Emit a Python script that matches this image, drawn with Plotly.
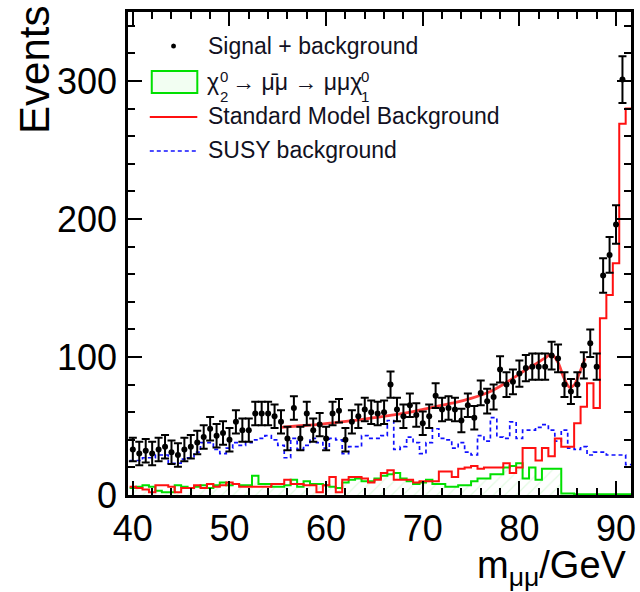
import plotly.graph_objects as go

# ---------------- data ----------------
BIN_WIDTH = 2.0 / 3.0
FIRST_CENTER = 40.0

data_events = [33, 30, 32, 30, 33, 35, 31, 29, 33, 35, 38, 42, 48, 43, 45, 40,
               53, 47, 47, 59, 59, 59, 57, 53, 41, 63, 41, 59, 47, 51, 41, 59, 61,
               40, 53, 57, 62, 60, 59, 60, 80, 62, 57, 65, 58, 52, 57, 72, 62,
               63, 62, 54, 65, 56, 74, 68, 71, 91, 80, 82, 88, 92, 93, 93, 93,
               101, 99, 80, 75, 80, 94, 110, 93, 159, 174, 196, 301]
data_errors = [8.5, 8.5, 8.5, 8.5, 8.5, 8.5, 8.5, 8.5, 8.5, 8.5, 8.5, 8.5, 8.5, 8.5, 8.5, 8.5,
               8.5, 8.5, 8.5, 8.5, 8.5, 8.5, 8.5, 8.5, 8.5, 8.5, 8.5, 8.5, 8.5, 8.5, 8.5, 8.5, 8.5,
               8.5, 8.5, 8.5, 8.5, 8.5, 8.5, 8.5, 9.5, 8.5, 8.5, 8.5, 8.5, 8.5, 8.5, 9.0, 8.5,
               8.5, 8.5, 8.5, 8.5, 8.5, 9.0, 9.0, 9.0, 9.5, 9.0, 9.0, 9.5, 9.5, 9.5, 9.5, 9.5,
               10.0, 10.0, 9.0, 9.0, 9.0, 9.5, 10.0, 9.5, 12.5, 13.0, 14.0, 17.0]

sm_background = [6, 5, 4, 2, 7, 7, 6, 2, 5, 5, 7, 5, 8, 6, 7, 9,
                 8, 6, 6, 6, 6, 6, 8, 8, 11, 8, 8, 7, 7, 2, 7, 13, 2, 11, 13, 13,
                 12, 9, 11, 16, 18, 11, 11, 11, 9, 10, 10, 10, 17, 17, 13, 19, 20, 21, 19, 20,
                 20, 20, 23, 16, 20,
                 34, 34, 25, 34, 28, 41, 35, 35, 52, 64, 81, 63, 128, 145, 168, 269, 280]
susy_background = [25, 25, 27, 27, 29, 29, 23, 23, 26, 27, 31, 38, 38, 33, 30, 34,
                   38, 36, 38, 40, 41, 43, 40, 36, 27, 41, 33, 36, 41, 38, 34, 41,
                   40, 30, 35, 35, 43, 41, 41, 43, 54, 33, 35, 42, 38, 30, 38, 48,
                   41, 40, 34, 38, 31, 29, 43, 39, 56, 42, 41, 53, 41, 47, 47,
                   49, 51, 47, 39, 47, 34, 33, 35, 29, 31, 31, 29, 29, 29, 22]
signal = [5, 6, 7, 6, 3, 2, 2, 7, 6, 5, 6, 7, 5, 7, 9, 7,
          8, 7, 7, 14, 8, 8, 6, 6, 7, 11, 6, 10, 8, 8, 7, 6, 5, 9, 11, 12,
          10, 10, 12, 14, 15, 16, 12, 10, 8, 9, 11, 8, 8,
          6, 6, 7, 7, 10, 12, 12, 15, 15, 20, 21, 23, 12, 20, 11, 19, 19, 19,
          1, 1, 0.5, 0.5, 0.5, 0.5, 0.5, 0.5, 0.5, 0.5, 0.5]

fit_mass = [55.3, 57, 59, 61, 63, 65, 67, 69, 71, 73, 75, 77, 79, 80.5, 81.7,
            82.6, 83.3, 84.0, 84.6, 85.2, 85.7, 86.2, 86.8]
fit_events = [49, 50, 51, 52.5, 54, 56, 58, 60.5, 63.5, 66.5, 70, 75, 83, 90, 95,
              99, 102, 96, 85, 78, 80, 88, 99]

x_ticks = [40, 50, 60, 70, 80, 90]
y_ticks = [0, 100, 200, 300]

legend_labels = ["Signal + background", "Standard Model Background", "SUSY background"]

# ---------------- derived binning ----------------
n_bins = len(sm_background)
centers = [FIRST_CENTER + i * BIN_WIDTH for i in range(n_bins)]
edges = [c - BIN_WIDTH / 2 for c in centers] + [centers[-1] + BIN_WIDTH / 2]


def step(vals):
    return list(vals) + [vals[-1]]


FONT = "Liberation Sans, Arial, sans-serif"
W, H = 640, 592
L, R, T, B = 128, 4, 12, 97
PW, PH = W - L - R, H - T - B


def px(x):
    return (x - L) / PW


def py(y):
    return (H - B - y) / PH


fig = go.Figure()

fig.add_trace(go.Scatter(
    x=edges, y=step(signal), mode="lines", line=dict(color="#00e000", width=2, shape="hv"),
    fill="tozeroy", fillcolor="rgba(0,0,0,0)",
    fillpattern=dict(shape="/", fgcolor="rgba(0,210,0,0.22)", bgcolor="rgba(0,0,0,0)", size=8, solidity=0.15),
    showlegend=False, hoverinfo="skip"))
fig.add_trace(go.Scatter(
    x=edges, y=step(susy_background), mode="lines",
    line=dict(color="#1010ff", width=1.7, shape="hv", dash="4px,3px"),
    showlegend=False, hoverinfo="skip"))
fig.add_trace(go.Scatter(
    x=edges, y=step(sm_background), mode="lines",
    line=dict(color="#ff1010", width=2, shape="hv"),
    showlegend=False, hoverinfo="skip"))
fig.add_trace(go.Scatter(
    x=fit_mass, y=fit_events, mode="lines",
    line=dict(color="rgba(255,40,40,0.9)", width=2.8, shape="spline", smoothing=0.8),
    showlegend=False, hoverinfo="skip"))
fig.add_trace(go.Scatter(
    x=centers[:len(data_events)], y=data_events, mode="markers",
    marker=dict(color="black", size=6),
    error_y=dict(type="data", array=data_errors, color="black", thickness=2, width=4),
    showlegend=False))

axis_common = dict(
    showline=True, linecolor="black", linewidth=2.5, mirror="ticks",
    ticks="inside", ticklen=14, tickwidth=2, tickcolor="black",
    showgrid=False, zeroline=False, ticklabeloverflow="allow",
    tickfont=dict(family=FONT, size=36, color="black"),
)

fig.update_layout(
    width=W, height=H,
    margin=dict(l=L, r=R, t=T, b=B),
    paper_bgcolor="white", plot_bgcolor="white",
    xaxis=dict(range=[39.5, 91.55], tickvals=x_ticks, ticktext=[str(v) for v in x_ticks],
               minor=dict(dtick=2, tick0=40, ticks="inside", ticklen=7, tickwidth=2, tickcolor="black"),
               **axis_common),
    yaxis=dict(range=[0, 350], tickvals=y_ticks, ticktext=[str(v) for v in y_ticks],
               minor=dict(dtick=20, tick0=0, ticks="inside", ticklen=7, tickwidth=2, tickcolor="black"),
               ticklabelstandoff=1,
               **axis_common),
)

ann = []
ann.append(dict(text="Events", x=px(33), y=py(70), xref="paper", yref="paper", textangle=-90,
                showarrow=False, xanchor="center", yanchor="middle",
                font=dict(family=FONT, size=42, color="black")))
ann.append(dict(text="m<sub>μμ</sub>/GeV", x=px(634), y=py(567.5), xref="paper", yref="paper",
                showarrow=False, xanchor="right", yanchor="middle",
                font=dict(family=FONT, size=38, color="black")))

LF = dict(family=FONT, size=23, color="#111122")
SF = dict(family=FONT, size=15, color="#111122")
ann.append(dict(text=legend_labels[0], x=px(207), y=py(46), xref="paper", yref="paper",
                showarrow=False, xanchor="left", yanchor="middle", font=LF))
ann.append(dict(text="χ", x=px(206), y=py(82), xref="paper", yref="paper",
                showarrow=False, xanchor="left", yanchor="middle", font=LF))
ann.append(dict(text="0<br>2", x=px(219), y=py(86), xref="paper", yref="paper",
                showarrow=False, xanchor="left", yanchor="middle", align="left", font=SF))
ann.append(dict(text="→ μ\u0304μ → μμχ", x=px(231), y=py(82), xref="paper", yref="paper",
                showarrow=False, xanchor="left", yanchor="middle", font=LF))
ann.append(dict(text="0<br>1", x=px(361), y=py(86), xref="paper", yref="paper",
                showarrow=False, xanchor="left", yanchor="middle", align="left", font=SF))
ann.append(dict(text=legend_labels[1], x=px(207), y=py(116), xref="paper", yref="paper",
                showarrow=False, xanchor="left", yanchor="middle", font=LF))
ann.append(dict(text=legend_labels[2], x=px(207), y=py(150), xref="paper", yref="paper",
                showarrow=False, xanchor="left", yanchor="middle", font=LF))

shapes = [
    dict(type="circle", xref="paper", yref="paper", x0=px(171.5), x1=px(176.5), y0=py(48.5), y1=py(43.5),
         fillcolor="black", line=dict(width=0)),
    dict(type="rect", xref="paper", yref="paper", x0=px(152), x1=px(198), y0=py(93), y1=py(71),
         fillcolor="rgba(0,230,0,0.05)", line=dict(color="#00e000", width=2)),
    dict(type="line", xref="paper", yref="paper", x0=px(150), x1=px(198), y0=py(117), y1=py(117),
         line=dict(color="#ff1010", width=2)),
    dict(type="line", xref="paper", yref="paper", x0=px(150), x1=px(198), y0=py(151), y1=py(151),
         line=dict(color="#1010ff", width=1.7, dash="4px,3px")),
]

fig.update_layout(annotations=ann, shapes=shapes)
fig.write_html("out.html")
